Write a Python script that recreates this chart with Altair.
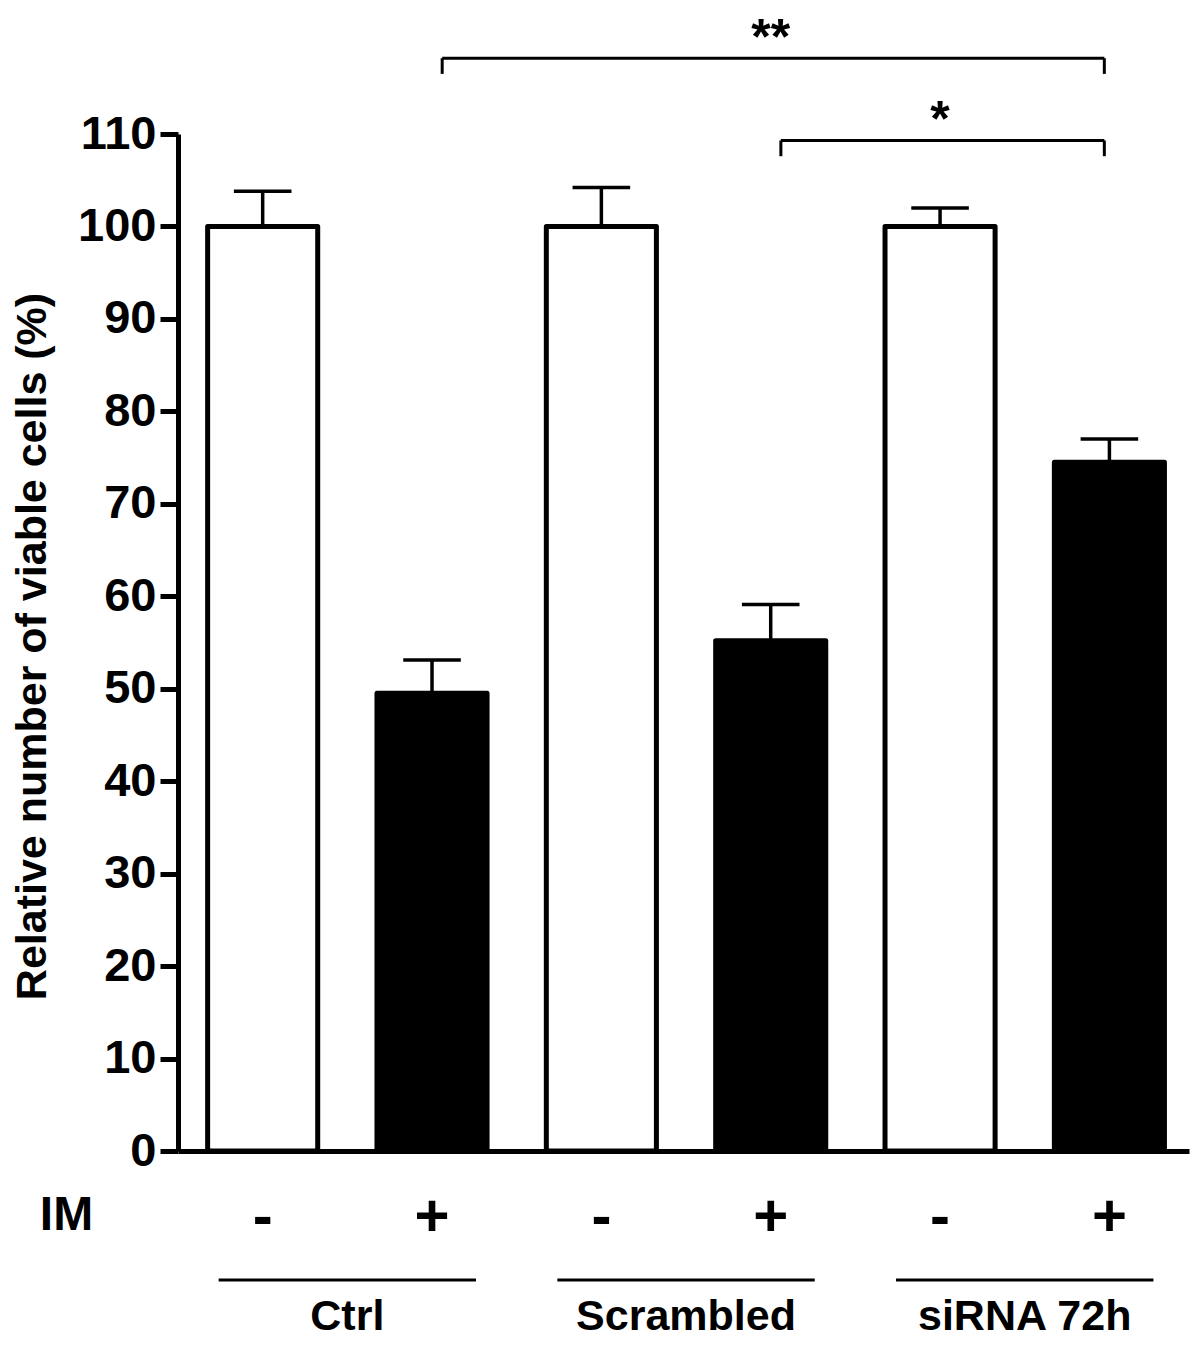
import altair as alt
import pandas as pd

FONT = "Liberation Sans"

# ---- data ----
groups = ["Ctrl", "Ctrl", "Scrambled", "Scrambled", "siRNA 72h", "siRNA 72h"]
im_signs = ["-", "+", "-", "+", "-", "+"]
values = [100.0, 49.5, 100.0, 55.2, 100.0, 74.5]
errors = [3.8, 3.6, 4.2, 3.9, 2.0, 2.5]
group_names = ["Ctrl", "Scrambled", "siRNA 72h"]
y_ticks = list(range(0, 111, 10))

bracket_from = [2, 4]
bracket_to = [6, 6]
bracket_labels = ["**", "*"]
bracket_levels = [118.2, 109.3]

df = pd.DataFrame({
    "pos": list(range(1, len(values) + 1)),
    "group": groups,
    "im": im_signs,
    "value": values,
    "err": errors,
})
bdf = pd.DataFrame({
    "from": bracket_from,
    "to": bracket_to,
    "label": bracket_labels,
    "level": bracket_levels,
})

xs = alt.Scale(domain=[0.5, 6.47], nice=False, zero=False, padding=0)
ys = alt.Scale(domain=[0, 110], nice=False, zero=True, padding=0)

y_axis = alt.Axis(
    values=y_ticks, grid=False, domain=True, domainColor="black", domainWidth=5,
    ticks=True, tickSize=18, tickWidth=5, tickColor="black",
    labelFont=FONT, labelFontSize=47, labelFontWeight="bold", labelColor="black",
    labelPadding=4,
    title="Relative number of viable cells (%)",
    titleFont=FONT, titleFontSize=43, titleFontWeight="bold", titleColor="black",
    titleAngle=-90, titleAlign="center", titleBaseline="middle",
    titleX=-146, titleY=512,
)
x_axis = alt.Axis(
    grid=False, domain=True, domainColor="black", domainWidth=5,
    ticks=False, labels=False,
    title="IM", titleFont=FONT, titleFontSize=48, titleFontWeight="bold",
    titleColor="black", titleAngle=0, titleAlign="center", titleBaseline="middle",
    titleX=-112, titleY=64,
)

base = alt.Chart(df).transform_calculate(
    x1="datum.pos - 0.325", x2="datum.pos + 0.325", zero="0",
    upper="datum.value + datum.err", c1="datum.pos - 0.17", c2="datum.pos + 0.17",
)

bars = base.mark_bar(stroke="black", strokeWidth=5, strokeJoin="round", orient="vertical").encode(
    x=alt.X("x1:Q", scale=xs, axis=x_axis),
    x2="x2:Q",
    y=alt.Y("value:Q", scale=ys, axis=y_axis),
    y2="zero:Q",
    fill=alt.Fill("im:N", scale=alt.Scale(domain=["-", "+"], range=["white", "black"]), legend=None),
)

err_v = base.mark_rule(color="black", strokeWidth=3.5).encode(
    x=alt.X("pos:Q", scale=xs),
    y=alt.Y("value:Q", scale=ys),
    y2="upper:Q",
)

err_cap = base.mark_rule(color="black", strokeWidth=3.5).encode(
    x=alt.X("c1:Q", scale=xs),
    x2="c2:Q",
    y=alt.Y("upper:Q", scale=ys),
)

signs = base.mark_text(
    font=FONT, fontSize=60, fontWeight="bold", color="black", baseline="middle", dy=67
).encode(
    x=alt.X("pos:Q", scale=xs),
    y=alt.Y("zero:Q", scale=ys),
    text="im:N",
)

grp = alt.Chart(df).transform_aggregate(
    center="mean(pos)", groupby=["group"]
).transform_calculate(gl="datum.center - 0.76", gr="datum.center + 0.76", zero="0")

grp_lines = grp.mark_rule(color="black", strokeWidth=3, yOffset=129).encode(
    x=alt.X("gl:Q", scale=xs),
    x2="gr:Q",
    y=alt.Y("zero:Q", scale=ys),
)
grp_text = grp.mark_text(
    font=FONT, fontSize=43, fontWeight="bold", color="black", baseline="middle", dy=166
).encode(
    x=alt.X("center:Q", scale=xs),
    y=alt.Y("zero:Q", scale=ys),
    text="group:N",
)

bbase = alt.Chart(bdf).transform_calculate(
    xl="datum.from + 0.06", xr="datum.to - 0.03", tip="datum.level - 1.7",
    mid="(datum.from + datum.to) / 2",
)
br_h = bbase.mark_rule(color="black", strokeWidth=3).encode(
    x=alt.X("xl:Q", scale=xs), x2="xr:Q",
    y=alt.Y("level:Q", scale=ys),
)
br_l = bbase.mark_rule(color="black", strokeWidth=3).encode(
    x=alt.X("xl:Q", scale=xs),
    y=alt.Y("level:Q", scale=ys), y2="tip:Q",
)
br_r = bbase.mark_rule(color="black", strokeWidth=3).encode(
    x=alt.X("xr:Q", scale=xs),
    y=alt.Y("level:Q", scale=ys), y2="tip:Q",
)
stars = bbase.mark_text(
    font=FONT, fontSize=50, fontWeight="bold", color="black", baseline="alphabetic", dy=-4
).encode(
    x=alt.X("mid:Q", scale=xs),
    y=alt.Y("level:Q", scale=ys),
    text="label:N",
)

chart = alt.layer(
    bars, err_v, err_cap, signs, grp_lines, grp_text, br_h, br_l, br_r, stars
).properties(
    width=1011, height=1017,
    autosize=alt.AutoSizeParams(type="none"),
    padding={"left": 170, "top": 126, "right": 3, "bottom": 189},
    background="white",
).configure_view(stroke=None)

chart.save("out.html", embed_options={"renderer": "svg", "actions": False})
